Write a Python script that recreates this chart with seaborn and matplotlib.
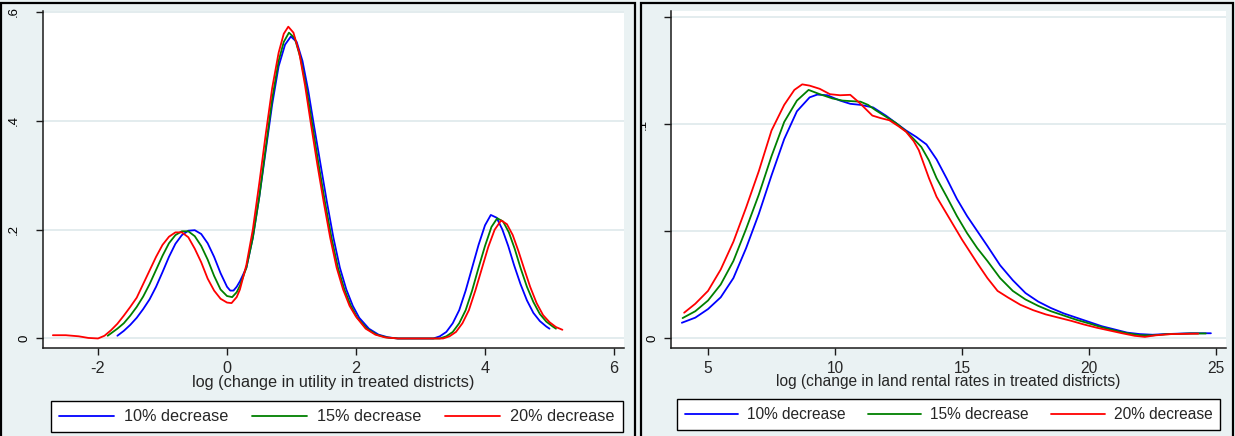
import matplotlib
matplotlib.use("Agg")
import matplotlib.pyplot as plt
import pandas as pd
import seaborn as sns
from matplotlib.lines import Line2D
from matplotlib.patches import Rectangle
from matplotlib.transforms import Bbox, TransformedBbox, blended_transform_factory

# ---------------------------------------------------------------------------
# Kernel density estimates: log change in utility (left panel)
# ---------------------------------------------------------------------------
util_10_x = [-1.7, -1.6, -1.5, -1.4, -1.3, -1.2, -1.1, -1.0, -0.9, -0.8, -0.7,
             -0.6, -0.5, -0.4, -0.3, -0.2, -0.1, 0.0, 0.05, 0.1, 0.15, 0.2, 0.3,
             0.4, 0.5, 0.6, 0.7, 0.8, 0.9, 0.99, 1.08, 1.17, 1.26, 1.35, 1.45,
             1.55, 1.65, 1.75, 1.85, 1.95, 2.05, 2.2, 2.35, 2.5, 2.65, 3.2, 3.3,
             3.4, 3.5, 3.6, 3.7, 3.8, 3.9, 4.0, 4.09, 4.18, 4.27, 4.36, 4.45,
             4.55, 4.65, 4.75, 4.85, 4.95, 5.0]
util_10_y = [0.005, 0.014, 0.025, 0.038, 0.054, 0.072, 0.095, 0.122, 0.15, 0.174,
             0.19, 0.198, 0.199, 0.192, 0.175, 0.15, 0.12, 0.095, 0.088, 0.088,
             0.095, 0.105, 0.13, 0.185, 0.26, 0.345, 0.43, 0.5, 0.54, 0.555,
             0.545, 0.51, 0.455, 0.39, 0.32, 0.25, 0.185, 0.13, 0.09, 0.06,
             0.038, 0.018, 0.007, 0.002, 0.0, 0.0, 0.004, 0.012, 0.028, 0.052,
             0.088, 0.13, 0.172, 0.208, 0.227, 0.222, 0.2, 0.17, 0.135, 0.1,
             0.07, 0.047, 0.032, 0.022, 0.018]

util_15_x = [-1.85, -1.7, -1.6, -1.5, -1.4, -1.3, -1.2, -1.1, -1.0, -0.9, -0.8,
             -0.7, -0.6, -0.5, -0.4, -0.3, -0.2, -0.1, 0.0, 0.08, 0.15, 0.2, 0.3,
             0.4, 0.5, 0.6, 0.7, 0.8, 0.88, 0.96, 1.05, 1.14, 1.23, 1.32, 1.42,
             1.52, 1.62, 1.72, 1.82, 1.92, 2.02, 2.17, 2.32, 2.47, 2.65, 3.3,
             3.4, 3.5, 3.6, 3.7, 3.8, 3.9, 4.0, 4.1, 4.19, 4.28, 4.37, 4.46,
             4.55, 4.65, 4.75, 4.85, 4.95, 5.05, 5.1]
util_15_y = [0.005, 0.018, 0.028, 0.042, 0.058, 0.077, 0.1, 0.126, 0.152, 0.175,
             0.19, 0.197, 0.197, 0.188, 0.17, 0.145, 0.115, 0.09, 0.078, 0.076,
             0.085, 0.097, 0.13, 0.185, 0.26, 0.35, 0.44, 0.51, 0.545, 0.562,
             0.552, 0.515, 0.46, 0.395, 0.32, 0.25, 0.185, 0.13, 0.09, 0.06,
             0.038, 0.018, 0.007, 0.002, 0.0, 0.0, 0.004, 0.012, 0.028, 0.052,
             0.088, 0.13, 0.17, 0.205, 0.221, 0.215, 0.195, 0.165, 0.13, 0.095,
             0.067, 0.045, 0.031, 0.022, 0.018]

util_20_x = [-2.7, -2.5, -2.3, -2.15, -2.0, -1.9, -1.8, -1.7, -1.6, -1.5, -1.4,
             -1.3, -1.2, -1.1, -1.0, -0.9, -0.8, -0.7, -0.6, -0.5, -0.4, -0.3,
             -0.2, -0.1, 0.0, 0.07, 0.15, 0.2, 0.3, 0.4, 0.5, 0.6, 0.7, 0.8,
             0.88, 0.95, 1.03, 1.12, 1.21, 1.3, 1.4, 1.5, 1.6, 1.7, 1.8, 1.9,
             2.0, 2.15, 2.3, 2.45, 2.65, 3.35, 3.45, 3.55, 3.65, 3.75, 3.85,
             3.95, 4.05, 4.15, 4.25, 4.34, 4.43, 4.52, 4.61, 4.7, 4.8, 4.9, 5.0,
             5.1, 5.2]
util_20_y = [0.006, 0.006, 0.004, 0.001, 0.0, 0.005, 0.015, 0.027, 0.042, 0.058,
             0.075, 0.1, 0.125, 0.15, 0.172, 0.187, 0.195, 0.195, 0.186, 0.165,
             0.14, 0.11, 0.088, 0.073, 0.066, 0.065, 0.076, 0.09, 0.135, 0.2,
             0.285, 0.375, 0.46, 0.525, 0.56, 0.573, 0.562, 0.525, 0.465, 0.395,
             0.32, 0.25, 0.185, 0.13, 0.09, 0.06, 0.04, 0.018, 0.007, 0.002,
             0.0, 0.0, 0.004, 0.012, 0.028, 0.052, 0.088, 0.128, 0.168, 0.2,
             0.217, 0.21, 0.19, 0.16, 0.127, 0.095, 0.065, 0.043, 0.03, 0.021,
             0.016]

# ---------------------------------------------------------------------------
# Kernel density estimates: log change in land rental rates (right panel)
# ---------------------------------------------------------------------------
rent_10_x = [3.97, 4.5, 5.0, 5.5, 6.0, 6.5, 7.0, 7.5, 8.0, 8.5, 9.0, 9.3, 9.7,
             10.2, 10.6, 11.0, 11.5, 12.0, 12.4, 12.8, 13.2, 13.6, 14.0, 14.4,
             14.8, 15.2, 15.6, 16.0, 16.5, 17.0, 17.5, 18.0, 18.5, 19.0, 19.5,
             20.0, 20.5, 21.0, 21.5, 22.0, 22.5, 23.0, 24.0, 24.8]
rent_10_y = [0.0071, 0.0095, 0.0135, 0.019, 0.028, 0.042, 0.058, 0.076, 0.093,
             0.106, 0.1125, 0.1138, 0.1135, 0.111, 0.1095, 0.109, 0.1078, 0.104,
             0.1005, 0.097, 0.094, 0.0905, 0.0835, 0.0745, 0.065, 0.057, 0.05,
             0.043, 0.034, 0.027, 0.021, 0.017, 0.014, 0.0115, 0.0095, 0.0075,
             0.0055, 0.004, 0.0025, 0.0018, 0.0015, 0.0018, 0.0022, 0.0022]

rent_15_x = [4.0, 4.5, 5.0, 5.5, 6.0, 6.5, 7.0, 7.5, 8.0, 8.5, 8.96, 9.4, 9.9,
             10.3, 10.7, 11.0, 11.3, 11.6, 12.0, 12.4, 12.8, 13.1, 13.4, 13.7,
             14.0, 14.4, 14.8, 15.2, 15.6, 16.0, 16.5, 17.0, 17.5, 18.0, 18.5,
             19.0, 19.5, 20.0, 20.5, 21.0, 21.5, 22.0, 22.5, 23.0, 24.0, 24.6]
rent_15_y = [0.0093, 0.0125, 0.0175, 0.025, 0.036, 0.051, 0.067, 0.085, 0.101,
             0.111, 0.116, 0.114, 0.112, 0.111, 0.1107, 0.1105, 0.109, 0.1065,
             0.1035, 0.1005, 0.0966, 0.093, 0.0893, 0.083, 0.0747, 0.066, 0.057,
             0.049, 0.042, 0.036, 0.028, 0.022, 0.018, 0.015, 0.0125, 0.0105,
             0.0085, 0.0068, 0.005, 0.0035, 0.0022, 0.0013, 0.0012, 0.0017,
             0.0021, 0.0021]

rent_20_x = [4.06, 4.5, 5.0, 5.5, 6.0, 6.5, 7.0, 7.5, 8.0, 8.4, 8.71, 9.0, 9.4,
             9.8, 10.2, 10.6, 10.96, 11.47, 11.8, 12.14, 12.5, 12.8, 13.1, 13.3,
             13.7, 14.0, 14.4, 14.8, 15.0, 15.6, 16.0, 16.4, 16.8, 17.3, 17.8,
             18.3, 18.8, 19.3, 19.8, 20.3, 20.8, 21.3, 21.8, 22.2, 22.6, 23.2,
             24.3]
rent_20_y = [0.0118, 0.016, 0.022, 0.032, 0.045, 0.061, 0.078, 0.097, 0.109,
             0.116, 0.1186, 0.118, 0.1165, 0.114, 0.1135, 0.1137, 0.11, 0.104,
             0.1028, 0.1018, 0.099, 0.0964, 0.092, 0.0878, 0.0747, 0.066, 0.058,
             0.05, 0.046, 0.035, 0.028, 0.022, 0.019, 0.0155, 0.013, 0.011,
             0.0095, 0.008, 0.0063, 0.0048, 0.0035, 0.0022, 0.001, 0.0005,
             0.0012, 0.0018, 0.002]

scenarios = ["10% decrease", "15% decrease", "20% decrease"]
colors = ["#0000FF", "#008000", "#FF0000"]

util_xticks = [-2, 0, 2, 4, 6]
util_yticks = [0, 0.2, 0.4, 0.6]
util_ylabels = ["0", ".2", ".4", ".6"]
rent_xticks = [5, 10, 15, 20, 25]
rent_yticks = [0, 0.05, 0.1, 0.15]
rent_ylabels = ["0", ".1"]
rent_ylabel_ticks = [0, 0.1]

util_title = "log (change in utility in treated districts)"
rent_title = "log (change in land rental rates in treated districts)"


def long_frame(xs, ys):
    parts = []
    for name, x, y in zip(scenarios, xs, ys):
        parts.append(pd.DataFrame({"x": x, "density": y, "scenario": name}))
    return pd.concat(parts, ignore_index=True)


util_df = long_frame([util_10_x, util_15_x, util_20_x],
                     [util_10_y, util_15_y, util_20_y])
rent_df = long_frame([rent_10_x, rent_15_x, rent_20_x],
                     [rent_10_y, rent_15_y, rent_20_y])

# ---------------------------------------------------------------------------
# Figure layout (pixel based)
# ---------------------------------------------------------------------------
sns.set_style("white")
plt.rcParams["font.family"] = ["Liberation Sans", "DejaVu Sans"]

W, H = 1235, 436
BG = "#EAF2F3"
GRID = "#E3ECEE"
AXC = "#1a1a1a"
LW = 1.3

fig = plt.figure(figsize=(W / 100, H / 100), dpi=100)
fig.patch.set_facecolor(BG)


def px_axes(x0, x1, y0, y1):
    return fig.add_axes([x0 / W, 1 - y1 / H, (x1 - x0) / W, (y1 - y0) / H])


def draw_panel(ax, df):
    sns.lineplot(data=df, x="x", y="density", hue="scenario",
                 hue_order=scenarios, palette=colors, estimator=None,
                 sort=False, lw=LW, legend=False, ax=ax, zorder=3)


def style_axes(ax, xticks, yticks, xlim, ylim, fs):
    ax.set_facecolor("white")
    ax.set_xlim(*xlim)
    ax.set_ylim(*ylim)
    ax.set_xticks(xticks)
    ax.set_yticks(yticks)
    ax.set_yticklabels([])
    ax.set_xticklabels([str(t) for t in xticks])
    for s in ("top", "right"):
        ax.spines[s].set_visible(False)
    for s in ("left", "bottom"):
        ax.spines[s].set_color(AXC)
        ax.spines[s].set_linewidth(1.1)
    ax.tick_params(axis="both", direction="out", length=5, width=1.0,
                   color=AXC, labelsize=fs, pad=4, left=True, bottom=True)
    for t in yticks:
        ax.axhline(t, color=GRID, lw=1.4, zorder=0)
    ax.set_ylabel("")


def y_labels(ax, ticks, labels, base_px, fs, clip_px):
    trans = blended_transform_factory(fig.transFigure, ax.transData)
    x0, x1 = clip_px
    clip = TransformedBbox(Bbox([[x0 / W, 0], [x1 / W, 1]]), fig.transFigure)
    for t, lab, bx in zip(ticks, labels, base_px):
        txt = fig.text(bx / W, t, lab, transform=trans, rotation=90,
                       rotation_mode="anchor", ha="center", va="baseline",
                       fontsize=fs, color="black")
        txt.set_clip_on(True)
        txt.set_clip_box(clip)


def x_title(ax, text, center_px_y, axes_bottom_px, axes_h_px, fs):
    ax.set_xlabel(text, fontsize=fs)
    ax.xaxis.label.set_va("center")
    ax.xaxis.set_label_coords(0.5, -(center_px_y - axes_bottom_px) / axes_h_px)


def legend(ax, cx, cy, fs, hlen, tpad, cspace):
    handles = [Line2D([], [], color=c, lw=LW) for c in colors]
    leg = ax.legend(handles, scenarios, loc="center", ncol=3,
                    bbox_to_anchor=(cx / W, 1 - cy / H),
                    bbox_transform=fig.transFigure, fontsize=fs,
                    frameon=True, fancybox=False, framealpha=1,
                    borderpad=0.5, handlelength=hlen, handletextpad=tpad,
                    columnspacing=cspace, borderaxespad=0)
    leg.get_frame().set_edgecolor("black")
    leg.get_frame().set_linewidth(1.0)


# Left panel: utility
axL = px_axes(43, 624, 11, 348)
draw_panel(axL, util_df)
style_axes(axL, util_xticks, util_yticks, (-2.853, 6.155), (-0.0175, 0.6018), 11.7)
x_title(axL, util_title, 382, 348, 337, 11.7)
legend(axL, 336.7, 416.7, 11.7, 3.4, 0.6, 1.45)
y_labels(axL, util_yticks, util_ylabels, [27, 17, 17, 17], 9.5, (2, 633))

# Right panel: land rental rates
axR = px_axes(671, 1226, 11, 348)
draw_panel(axR, rent_df)
style_axes(axR, rent_xticks, rent_yticks, (3.543, 25.394), (-0.0047, 0.1529), 11.2)
x_title(axR, rent_title, 381, 348, 337, 11.2)
legend(axR, 948.5, 414.7, 11.2, 3.45, 0.58, 1.4)
y_labels(axR, rent_ylabel_ticks, rent_ylabels, [655, 646], 9.5, (642, 1232))

# Panel outlines
for x0, x1 in ((1.0, 634.5), (641.0, 1233.0)):
    fig.patches.append(Rectangle((x0 / W, 1 - 445 / H), (x1 - x0) / W, (445 - 3) / H,
                                 transform=fig.transFigure, fill=False,
                                 edgecolor="black", lw=1.6, zorder=10))

fig.savefig("out.png", dpi=100, facecolor=fig.get_facecolor())
